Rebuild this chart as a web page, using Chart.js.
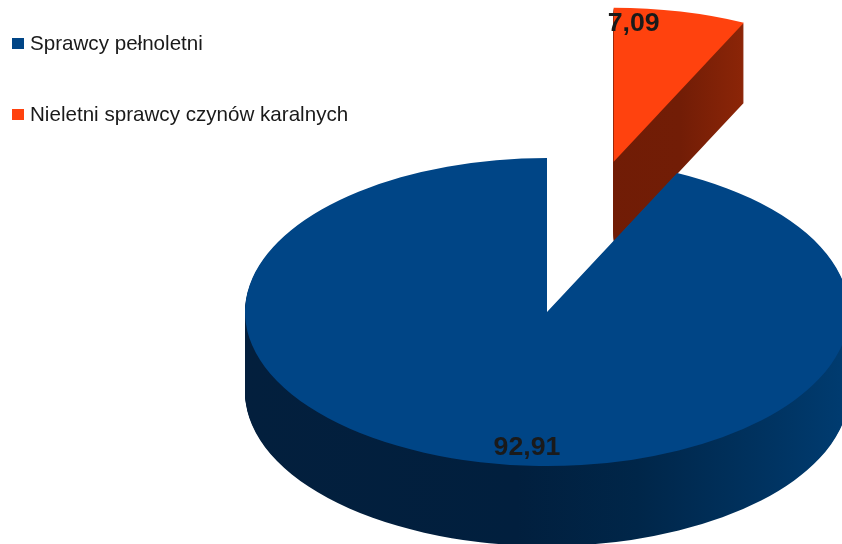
<!DOCTYPE html>
<html>
<head>
<meta charset="utf-8">
<script src="https://cdn.jsdelivr.net/npm/chart.js@4.4.1/dist/chart.umd.min.js"></script>
<style>
  html, body { margin: 0; padding: 0; background: #fff; }
</style>
</head>
<body>
<canvas id="pie3d" width="842" height="544"></canvas>
<script>
// --- DATOS ---
const labels = ['Sprawcy pełnoletni', 'Nieletni sprawcy czynów karalnych'];
const values = [92.91, 7.09];
const valueLabels = ['92,91', '7,09'];

// --- ESTILO ---
const TOP_COLORS = ['#004586', '#ff420e'];
const EXPLODE = [0, 1.0];  // separación de cada sector, en fracción del radio
const TILT = 154 / 302;    // eje menor / eje mayor de la elipse
const DEPTH = 80;          // grosor lateral en px
const FONT = '"Liberation Sans", Arial, sans-serif';

// aplasta el círculo en vertical alrededor del centro
function tilt(ctx, cy) {
    ctx.translate(0, cy);
    ctx.scale(1, TILT);
    ctx.translate(0, -cy);
}

// vector de separación (en el plano del círculo, sin aplastar)
function explodeShift(arc, i) {
    const mid = (arc.startAngle + arc.endAngle) / 2;
    const d = EXPLODE[i] * arc.outerRadius;
    return [Math.cos(mid) * d, Math.sin(mid) * d];
}

function sideGradient(ctx, arc, i) {
    const g = ctx.createLinearGradient(arc.x - arc.outerRadius, 0, arc.x + arc.outerRadius, 0);
    if (i === 0) {
        g.addColorStop(0, '#031f3d');
        g.addColorStop(0.45, '#011f3e');
        g.addColorStop(0.65, '#002649');
        g.addColorStop(0.85, '#00325f');
        g.addColorStop(1, '#003c71');
    } else {
        g.addColorStop(0, '#6b1a05');
        g.addColorStop(0.61, '#721d06');
        g.addColorStop(0.83, '#a82e09');
        g.addColorStop(1, '#a82e09');
    }
    return g;
}

const pie3dPlugin = {
    id: 'pie3d',
    beforeDatasetsDraw(chart) {
        const ctx = chart.ctx;
        const arcs = chart.getDatasetMeta(0).data;

        // caras laterales: el sector repetido hacia abajo
        arcs.forEach((arc, i) => {
            const [sx, sy] = explodeShift(arc, i);
            const saved = arc.options;
            arc.options = Object.assign({}, saved, { backgroundColor: sideGradient(ctx, arc, i), borderWidth: 0 });
            for (let d = DEPTH; d >= 1; d--) {
                ctx.save();
                ctx.translate(0, d);
                tilt(ctx, arc.y);
                ctx.translate(sx, sy);
                arc.draw(ctx);
                ctx.restore();
            }
            arc.options = saved;
        });

        // caras superiores
        arcs.forEach((arc, i) => {
            const [sx, sy] = explodeShift(arc, i);
            ctx.save();
            tilt(ctx, arc.y);
            ctx.translate(sx, sy);
            arc.draw(ctx);
            ctx.restore();
        });

        return false;   // ya dibujado
    },
    afterDraw(chart) {
        const ctx = chart.ctx;
        const arcs = chart.getDatasetMeta(0).data;

        // valores sobre los sectores
        ctx.save();
        ctx.font = 'bold 26.7px ' + FONT;
        ctx.fillStyle = '#1a1a1a';
        ctx.textAlign = 'center';
        ctx.textBaseline = 'middle';
        arcs.forEach((arc, i) => {
            const mid = (arc.startAngle + arc.endAngle) / 2;
            const [sx, sy] = explodeShift(arc, i);
            const cx = arc.x + sx;
            const cy = arc.y + sy * TILT;
            const r = arc.outerRadius;
            ctx.fillText(valueLabels[i], cx + Math.cos(mid) * r * 0.3, cy + Math.sin(mid) * r * TILT * 0.9 - (i === 1 ? 3 : 0));
        });
        ctx.restore();

        // leyenda a la izquierda
        ctx.save();
        ctx.font = '20.6px ' + FONT;
        ctx.textBaseline = 'alphabetic';
        labels.forEach((label, i) => {
            const base = 50 + i * 71;
            ctx.fillStyle = TOP_COLORS[i];
            ctx.fillRect(12, base - 12, 12, 11);
            ctx.fillStyle = '#1a1a1a';
            ctx.fillText(label, 30, base);
        });
        ctx.restore();
    }
};

new Chart(document.getElementById('pie3d'), {
    type: 'pie',
    data: {
        labels,
        datasets: [{
            data: values,
            backgroundColor: TOP_COLORS,
            borderWidth: 0,
            radius: 302,
            clip: false
        }]
    },
    options: {
        responsive: false,
        animation: false,
        cutout: '0%',
        rotation: values[1] * 3.6,
        layout: { padding: { left: 252, right: 0, top: 80, bottom: 0 } },
        plugins: {
            legend: { display: false },
            tooltip: { enabled: false }
        },
        events: []
    },
    plugins: [pie3dPlugin]
});
</script>
</body>
</html>
